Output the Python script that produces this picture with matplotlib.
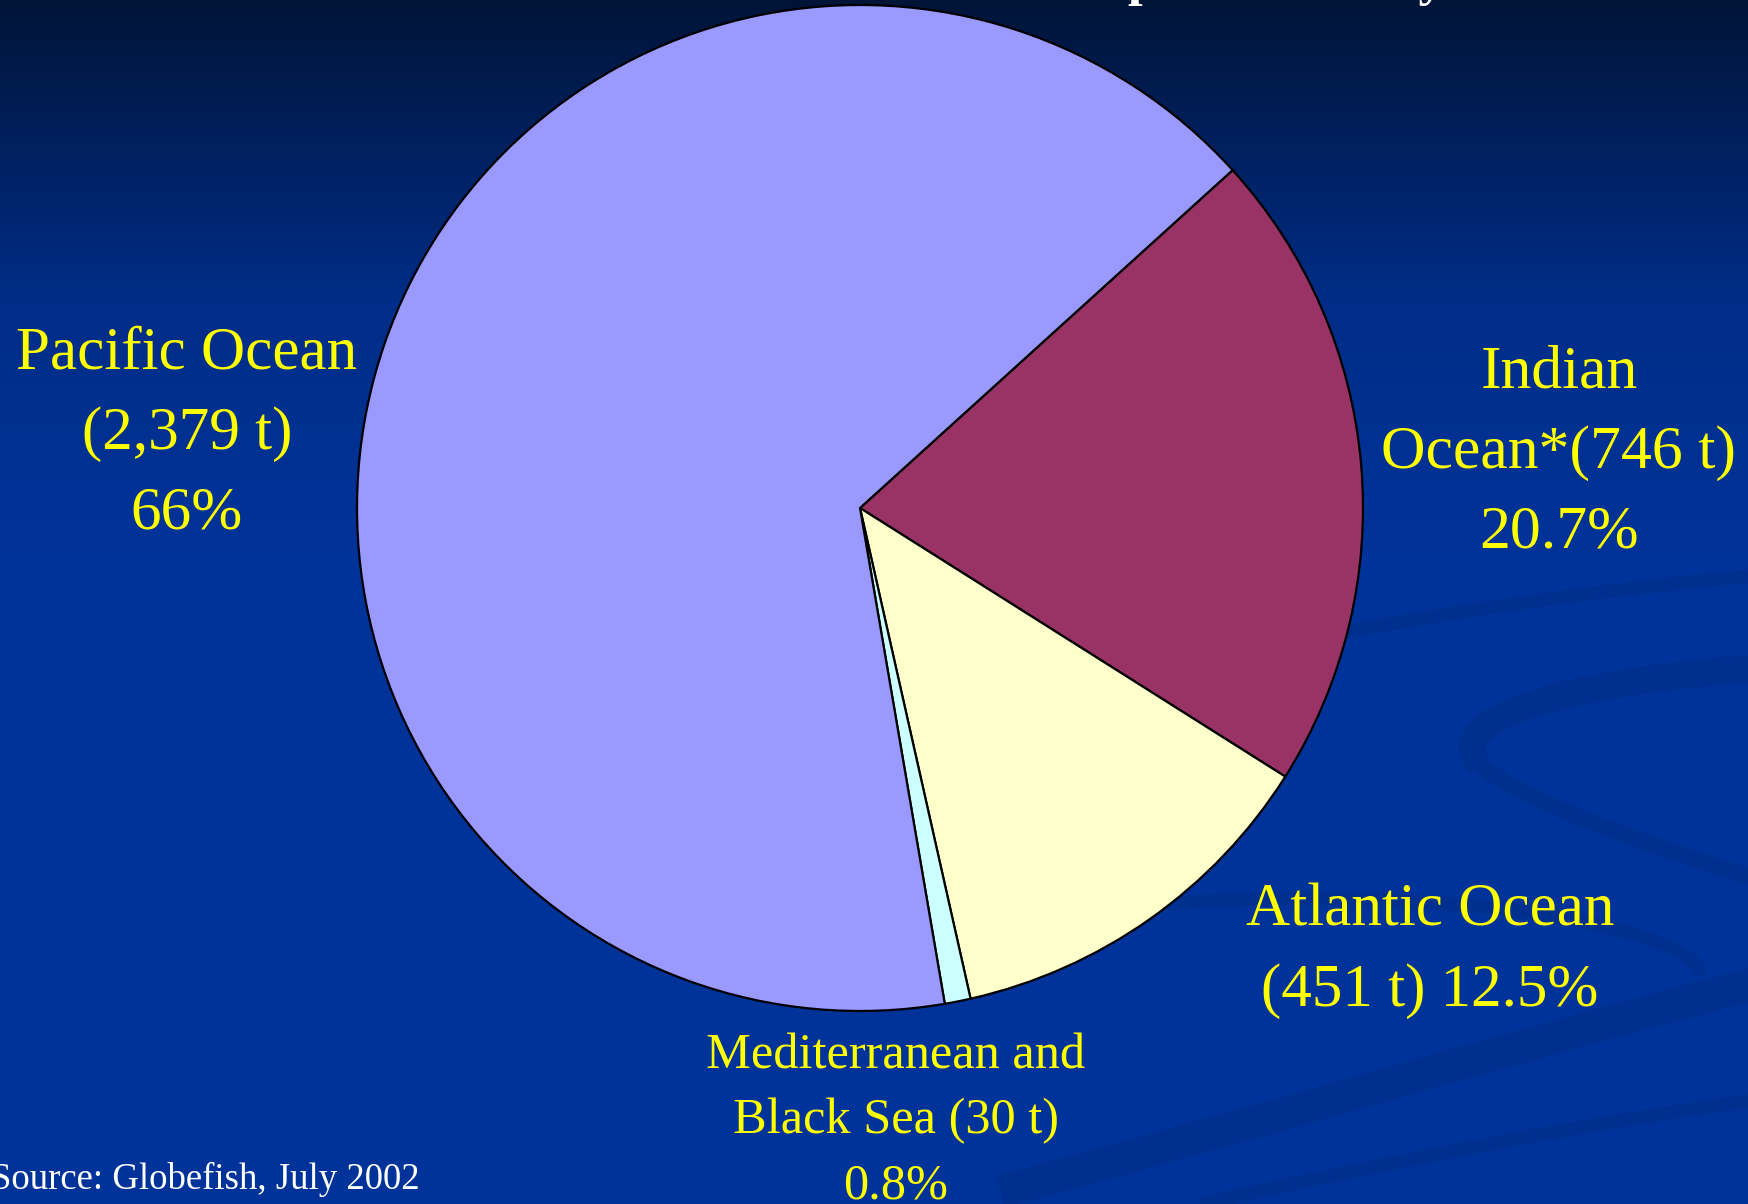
import numpy as np
import matplotlib
matplotlib.use("Agg")
import matplotlib.pyplot as plt
from matplotlib.path import Path
from matplotlib.patches import PathPatch

# ---- data ----
regions = ["Indian Ocean", "Atlantic Ocean", "Mediterranean and Black Sea", "Pacific Ocean"]
tonnes = [746, 451, 30, 2379]
slice_colors = ["#993366", "#FFFFCC", "#CCFFFF", "#9999FF"]
label_texts = ["Indian\nOcean*(746 t)\n20.7%",
               "Atlantic Ocean\n(451 t) 12.5%",
               "Mediterranean and\nBlack Sea (30 t)\n0.8%",
               "Pacific Ocean\n(2,379 t)\n66%"]
source_text = "Source: Globefish, July 2002"
title_text = "production by ocean"

W, H = 1749, 1204
fig = plt.figure(figsize=(W / 100, H / 100), dpi=100)

# ---- background ----
bg = fig.add_axes([0, 0, 1, 1])
bg.set_xlim(0, W)
bg.set_ylim(H, 0)
bg.axis("off")
top = np.array([0, 20, 56]) / 255
mid = np.array([0, 45, 135]) / 255
bot = np.array([0, 51, 153]) / 255
N = 400
grad = np.zeros((N, 1, 3))
for i in range(N):
    py = i / (N - 1) * H
    if py < 300:
        f = py / 300
        c = top * (1 - f) + mid * f
    elif py < 550:
        f = (py - 300) / 250
        c = mid * (1 - f) + bot * f
    else:
        c = bot
    grad[i, 0] = c
bg.imshow(grad, extent=[0, W, H, 0], aspect="auto", zorder=0)

swoosh = "#00308f"
def band(pts, lw):
    codes = [Path.MOVETO] + [Path.CURVE4] * (len(pts) - 1)
    bg.add_patch(PathPatch(Path(pts, codes), fill=False, edgecolor=swoosh,
                           lw=lw, capstyle="butt", zorder=1))

band([(1250, 650), (1450, 610), (1600, 590), (1760, 575)], 10)
band([(1760, 668), (1560, 682), (1440, 720), (1480, 765)], 20)
band([(1480, 765), (1530, 805), (1650, 845), (1760, 880)], 12)
band([(1150, 905), (1450, 880), (1700, 930), (1700, 975)], 10)
band([(1000, 1192), (1250, 1125), (1500, 1050), (1760, 982)], 24)
band([(1200, 1204), (1400, 1160), (1600, 1120), (1760, 1100)], 10)

# ---- pie ----
cx, cy, r = 860, 508, 503
pax = fig.add_axes([(cx - r) / W, 1 - (cy + r) / H, 2 * r / W, 2 * r / H])
pax.pie(tonnes, colors=slice_colors, startangle=42.2, counterclock=False,
        radius=1.0, wedgeprops=dict(edgecolor="black", linewidth=1.6))
pax.set_xlim(-1.0, 1.0)
pax.set_ylim(-1.0, 1.0)
pax.set_aspect("equal")
pax.axis("off")
for p in pax.patches:
    p.set_clip_on(False)

serif = ["Liberation Serif", "DejaVu Serif"]
yellow = "#FFFF00"

# label positions (pixels): x, y of middle line, fontsize, line step
lab_pos = [(1559, 453, 44.5, 80), (1430, 951, 44, 80), (896, 1121, 36.3, 65), (187, 434, 44, 80)]
for txt, (x, y, fs, dy) in zip(label_texts, lab_pos):
    lines = txt.split("\n")
    n = len(lines)
    for k, line in enumerate(lines):
        yy = y + (k - (n - 1) / 2) * dy
        bg.text(x, yy, line, color=yellow, fontsize=fs, family=serif,
                ha="center", va="center", zorder=5)

bg.text(-9, 1179, source_text, color="white", fontsize=26.5, family=serif,
        ha="left", va="center", zorder=5)

bg.text(1128, -5, title_text, color="white", fontsize=38, family=serif,
        fontweight="bold", ha="left", va="baseline", zorder=5)

fig.savefig("out.png", dpi=100)
